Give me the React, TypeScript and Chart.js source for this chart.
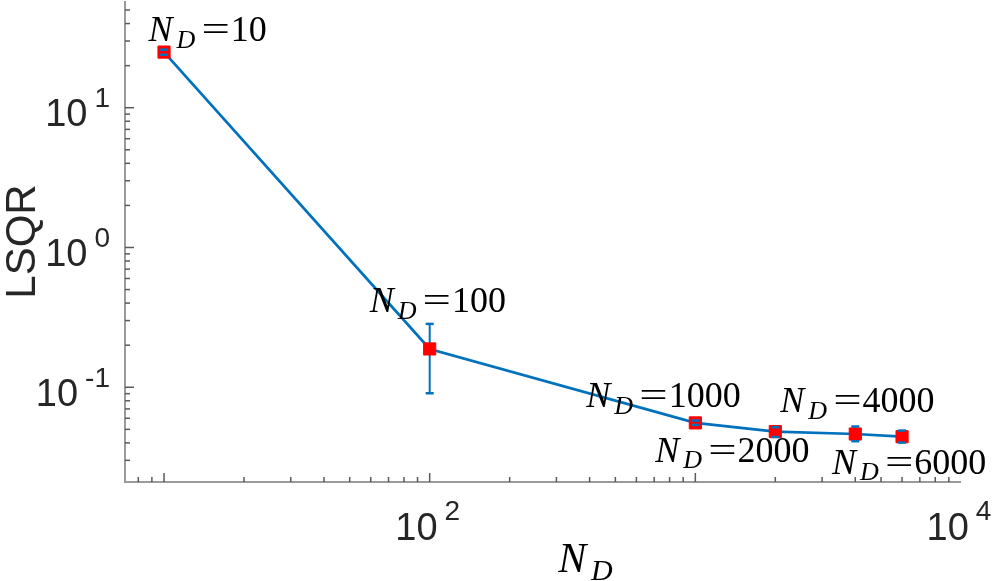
import React, { useEffect, useRef } from "react";
import { Chart, registerables } from "chart.js";

Chart.register(...registerables);

// ---- data ----
const nD = [10, 100, 1000, 2000, 4000, 6000];
const lsqr = [25, 0.188, 0.0556, 0.0482, 0.0463, 0.0443];
const errLow = [23.9, 0.0906, 0.0538, 0.0441, 0.0411, 0.0402];
const errHigh = [26.0, 0.284, 0.0578, 0.0518, 0.0524, 0.049];
const xTickExponents = ["2", "4"];
const yTickExponents = ["1", "0", "-1"];
const yTitle = "LSQR";

// ---- styling ----
const BLUE = "#0072BD";
const RED = "#FF0000";
const SANS = '"Liberation Sans", Arial, Helvetica, sans-serif';
const SERIF = '"Liberation Serif", "Times New Roman", serif';
// annotation offsets (px) from each data point: [dx to glyph left, dy to baseline]
const labelOffsets: [number, number][] = [
  [-15.5, -11],
  [-60, -36.6],
  [-109, -15.6],
  [-120, 30],
  [-75, -21.6],
  [-70, 37],
];

function drawND(
  ctx: CanvasRenderingContext2D,
  x: number,
  baseline: number,
  value: string | null,
  nSize: number,
  dSize: number
) {
  ctx.fillStyle = "#000";
  ctx.textAlign = "left";
  ctx.textBaseline = "alphabetic";
  ctx.font = `italic ${nSize}px ${SERIF}`;
  ctx.fillText("N", x, baseline);
  let cx = x + ctx.measureText("N").width + nSize * 0.11;
  ctx.font = `italic ${dSize}px ${SERIF}`;
  ctx.fillText("D", cx, baseline + nSize * 0.18);
  cx += ctx.measureText("D").width;
  if (value !== null) {
    cx += nSize * 0.17;
    ctx.font = `${nSize}px ${SERIF}`;
    const eqW = ctx.measureText("=").width;
    ctx.save();
    ctx.translate(cx, baseline);
    ctx.scale(1.4, 1);
    ctx.fillText("=", 0, 0);
    ctx.restore();
    cx += eqW * 1.4 + 1;
    ctx.fillText(value, cx, baseline);
  }
}

function measureND(ctx: CanvasRenderingContext2D, nSize: number, dSize: number) {
  ctx.font = `italic ${nSize}px ${SERIF}`;
  let w = ctx.measureText("N").width + nSize * 0.11;
  ctx.font = `italic ${dSize}px ${SERIF}`;
  w += ctx.measureText("D").width;
  return w;
}

function drawPow(
  ctx: CanvasRenderingContext2D,
  exp: string,
  anchorX: number,
  baseY: number,
  expY: number,
  align: "right" | "center"
) {
  const gap = 7;
  ctx.font = `38px ${SANS}`;
  const wb = ctx.measureText("10").width;
  ctx.font = `28px ${SANS}`;
  const we = ctx.measureText(exp).width;
  const total = wb + gap + we;
  const start = align === "right" ? anchorX - total : anchorX - total / 2;
  ctx.fillStyle = "#262626";
  ctx.textAlign = "left";
  ctx.textBaseline = "alphabetic";
  ctx.font = `38px ${SANS}`;
  ctx.fillText("10", start, baseY);
  ctx.font = `28px ${SANS}`;
  ctx.fillText(exp, start + wb + gap, expY);
}

function logTicks(min: number, max: number) {
  const out: { v: number; major: boolean }[] = [];
  for (let e = Math.floor(Math.log10(min)); e <= Math.ceil(Math.log10(max)); e++) {
    for (let m = 1; m <= 9; m++) {
      const v = m * Math.pow(10, e);
      if (v > min * 1.001 && v < max * 0.999) out.push({ v, major: m === 1 });
    }
  }
  return out;
}

const errorBarsPlugin = {
  id: "errorBarsCustom",
  beforeDatasetsDraw(chart: any) {
    const { ctx, scales } = chart;
    ctx.save();
    ctx.strokeStyle = BLUE;
    ctx.lineWidth = 2;
    for (let i = 0; i < nD.length; i++) {
      const px = scales.x.getPixelForValue(nD[i]);
      ctx.beginPath();
      ctx.moveTo(px, scales.y.getPixelForValue(errLow[i]));
      ctx.lineTo(px, scales.y.getPixelForValue(errHigh[i]));
      ctx.stroke();
    }
    ctx.restore();
  },
  afterDatasetsDraw(chart: any) {
    const { ctx, scales } = chart;
    ctx.save();
    ctx.strokeStyle = BLUE;
    ctx.lineWidth = 2.5;
    const hw = 4;
    for (let i = 0; i < nD.length; i++) {
      const px = scales.x.getPixelForValue(nD[i]);
      for (const v of [errLow[i], errHigh[i]]) {
        const py = scales.y.getPixelForValue(v);
        ctx.beginPath();
        ctx.moveTo(px - hw, py);
        ctx.lineTo(px + hw, py);
        ctx.stroke();
      }
    }
    ctx.restore();
  },
};

const axesPlugin = {
  id: "matlabAxes",
  afterDraw(chart: any) {
    const { ctx, chartArea, scales } = chart;
    const { left, right, top, bottom } = chartArea;
    const xs = scales.x;
    const ys = scales.y;
    ctx.save();
    // axis lines
    ctx.strokeStyle = "#9a9a9a";
    ctx.lineWidth = 2;
    ctx.beginPath();
    ctx.moveTo(left, top);
    ctx.lineTo(left, bottom);
    ctx.lineTo(right, bottom);
    ctx.stroke();
    // inward ticks
    ctx.strokeStyle = "#5a5a5a";
    ctx.lineWidth = 1.5;
    for (const t of logTicks(xs.min, xs.max)) {
      const px = xs.getPixelForValue(t.v);
      ctx.beginPath();
      ctx.moveTo(px, bottom);
      ctx.lineTo(px, bottom - (t.major ? 9 : 5));
      ctx.stroke();
    }
    for (const t of logTicks(ys.min, ys.max)) {
      const py = ys.getPixelForValue(t.v);
      ctx.beginPath();
      ctx.moveTo(left, py);
      ctx.lineTo(left + (t.major ? 9 : 5), py);
      ctx.stroke();
    }
    // tick labels
    for (const e of yTickExponents) {
      const py = ys.getPixelForValue(Math.pow(10, Number(e)));
      drawPow(ctx, e, left - 15, py + 18.7, py - 0.3, "right");
    }
    for (const e of xTickExponents) {
      const px = xs.getPixelForValue(Math.pow(10, Number(e)));
      drawPow(ctx, e, px - 2, bottom + 58.3, bottom + 38.3, "center");
    }
    // y title
    ctx.save();
    ctx.translate(35, (top + bottom) / 2);
    ctx.rotate(-Math.PI / 2);
    ctx.font = `42px ${SANS}`;
    ctx.fillStyle = "#262626";
    ctx.textAlign = "center";
    ctx.textBaseline = "alphabetic";
    ctx.fillText(yTitle, 0, 0);
    ctx.restore();
    // x title
    const tw = measureND(ctx, 42, 30);
    drawND(ctx, 585.5 - tw / 2, bottom + 90, null, 42, 30);
    // annotations
    for (let i = 0; i < nD.length; i++) {
      const px = xs.getPixelForValue(nD[i]);
      const py = ys.getPixelForValue(lsqr[i]);
      const [dx, dy] = labelOffsets[i];
      drawND(ctx, px + dx, py + dy, String(nD[i]), 36, 26);
    }
    ctx.restore();
  },
};

export default function App() {
  const ref = useRef<HTMLCanvasElement | null>(null);
  useEffect(() => {
    if (!ref.current) return;
    const chart = new Chart(ref.current, {
      type: "scatter",
      data: {
        datasets: [
          {
            data: nD.map((x, i) => ({ x, y: lsqr[i] })),
            showLine: true,
            borderColor: BLUE,
            borderWidth: 2.7,
            pointStyle: "rect",
            pointRadius: 8.6,
            pointBackgroundColor: RED,
            pointBorderColor: RED,
            pointBorderWidth: 1,
            tension: 0,
          } as any,
        ],
      },
      options: {
        animation: false,
        responsive: false,
        devicePixelRatio: 1,
        layout: { autoPadding: false, padding: { left: 125, right: 36, top: 1, bottom: 99 } },
        plugins: { legend: { display: false }, tooltip: { enabled: false } },
        scales: {
          x: {
            type: "logarithmic",
            min: 7.13,
            max: 10000,
            ticks: { display: false },
            grid: { display: false, drawTicks: false },
            border: { display: false },
          },
          y: {
            type: "logarithmic",
            min: 0.021,
            max: 58,
            ticks: { display: false },
            grid: { display: false, drawTicks: false },
            border: { display: false },
          },
        },
      },
      plugins: [errorBarsPlugin, axesPlugin],
    } as any);
    return () => chart.destroy();
  }, []);
  return (
    <div style={{ position: "absolute", left: 0, top: 0, width: 997, height: 581, background: "#fff" }}>
      <canvas ref={ref} width={997} height={581} style={{ width: 997, height: 581, display: "block" }} />
    </div>
  );
}
